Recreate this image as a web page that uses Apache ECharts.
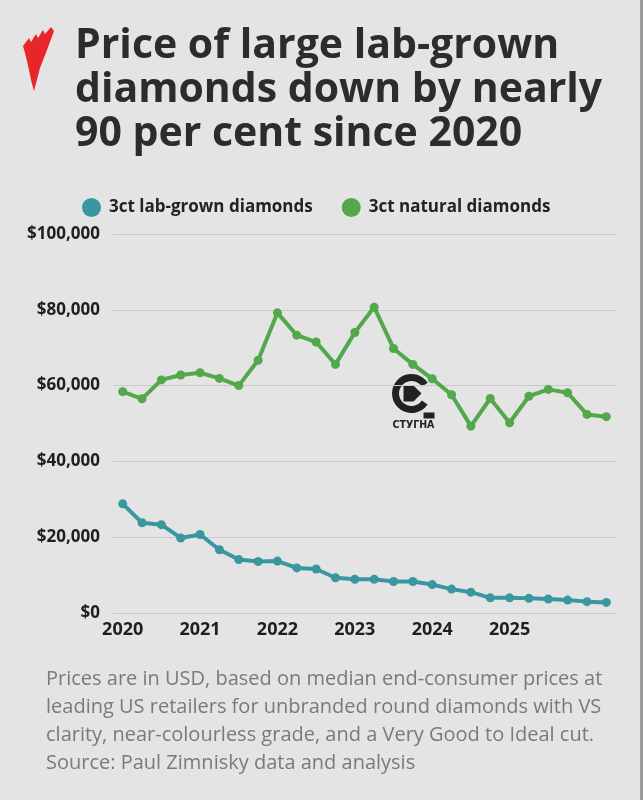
<!DOCTYPE html>
<html>
<head>
<meta charset="utf-8">
<script src="https://cdn.jsdelivr.net/npm/echarts@6/dist/echarts.min.js"></script>
<style>
html,body{margin:0;padding:0;background:#e4e4e4;}
#chart{width:643px;height:800px;}
</style>
</head>
<body>
<div id="chart"></div>
<script>
// Quarterly categories, Q1 2020 .. Q2 2026
const categories = [
  '2020 Q1','2020 Q2','2020 Q3','2020 Q4',
  '2021 Q1','2021 Q2','2021 Q3','2021 Q4',
  '2022 Q1','2022 Q2','2022 Q3','2022 Q4',
  '2023 Q1','2023 Q2','2023 Q3','2023 Q4',
  '2024 Q1','2024 Q2','2024 Q3','2024 Q4',
  '2025 Q1','2025 Q2','2025 Q3','2025 Q4',
  '2026 Q1','2026 Q2'
];
// Year tick labels shown on the x axis (empty = no label)
const tickLabels = [
  '2020','','','',
  '2021','','','',
  '2022','','','',
  '2023','','','',
  '2024','','','',
  '2025','','','',
  '',''
];
const labGrown = [
  28800, 23800, 23300, 19800, 20700, 16700, 14100, 13600, 13700, 11900, 11600, 9300, 8900,
  8900, 8300, 8300, 7500, 6300, 5500, 4000, 4000, 3900, 3700, 3400, 3000, 2800
];
const natural = [
  58400, 56500, 61500, 62800, 63400, 61900, 60000, 66700, 79200, 73300, 71500, 65600, 74000,
  80700, 69800, 65600, 61800, 57600, 49300, 56600, 50200, 57200, 59000, 58100, 52400, 51800
];
const yTicks = [0, 20000, 40000, 60000, 80000, 100000];
const seriesNames = ['3ct lab-grown diamonds', '3ct natural diamonds'];
const titleLines = ['Price of large lab-grown', 'diamonds down by nearly', '90 per cent since 2020'];
const footnoteLines = [
  'Prices are in USD, based on median end-consumer prices at',
  'leading US retailers for unbranded round diamonds with VS',
  'clarity, near-colourless grade, and a Very Good to Ideal cut.',
  'Source: Paul Zimnisky data and analysis'
];

const FONT = '"Open Sans", "Noto Sans", sans-serif';
const TEAL = '#3a97a0';
const GREEN = '#52a84a';

const chart = echarts.init(document.getElementById('chart'), null, {renderer: 'canvas'});
chart.setOption({
  backgroundColor: '#e4e4e4',
  animation: false,
  title: {
    text: titleLines.join('\n'),
    left: 70,
    top: 19,
    textStyle: {
      fontFamily: FONT,
      fontSize: 41,
      fontWeight: 'bold',
      color: '#2c2c2c',
      lineHeight: 44
    }
  },
  legend: {
    data: seriesNames,
    left: 77,
    top: 193,
    icon: 'circle',
    itemWidth: 19,
    itemHeight: 19,
    itemGap: 29,
    textStyle: {
      fontFamily: FONT,
      fontSize: 17,
      fontWeight: 'bold',
      color: '#222',
      padding: [0, 0, 0, 3]
    }
  },
  grid: {
    left: 113,
    right: 27,
    top: 234,
    bottom: 187,
    containLabel: false
  },
  xAxis: {
    type: 'category',
    data: categories,
    boundaryGap: true,
    axisLine: {show: false},
    axisTick: {show: false},
    axisLabel: {
      interval: function (index) { return tickLabels[index] !== ''; },
      formatter: function (value, index) { return tickLabels[index]; },
      margin: 8,
      fontFamily: FONT,
      fontSize: 18,
      fontWeight: 'bold',
      color: '#1f1f1f'
    }
  },
  yAxis: {
    type: 'value',
    min: yTicks[0],
    max: yTicks[yTicks.length - 1],
    interval: yTicks[1] - yTicks[0],
    axisLine: {show: false},
    axisTick: {show: false},
    splitLine: {lineStyle: {color: '#c9c9c9', width: 1}},
    axisLabel: {
      margin: 13,
      fontFamily: FONT,
      fontSize: 17,
      fontWeight: 'bold',
      color: '#1f1f1f',
      formatter: function (v) { return '$' + v.toLocaleString('en-US'); }
    }
  },
  series: [
    {
      name: seriesNames[0],
      type: 'line',
      data: labGrown,
      color: TEAL,
      symbol: 'circle',
      symbolSize: 9,
      lineStyle: {width: 4, color: TEAL},
      itemStyle: {color: TEAL}
    },
    {
      name: seriesNames[1],
      type: 'line',
      data: natural,
      color: GREEN,
      symbol: 'circle',
      symbolSize: 9,
      lineStyle: {width: 4, color: GREEN},
      itemStyle: {color: GREEN}
    }
  ],
  graphic: [
    // SBS-style logo mark
    {
      type: 'polygon',
      z: 10,
      shape: {points: [[23,46],[29,38],[31,42],[36,34],[38,38],[43,30],[45,34],[51,27],[54,31],[47,50],[40,68],[34,91],[31,80],[29,70],[27,61],[25,53]]},
      style: {fill: '#e8262a'}
    },
    // Watermark (Stugna)
    {
      type: 'group',
      left: 392,
      top: 374,
      z: 20,
      children: [
        {type: 'arc', shape: {cx: 20, cy: 20, r: 16, startAngle: 0.6, endAngle: 5.7}, style: {stroke: '#222', lineWidth: 7, fill: null}},
        {type: 'polygon', shape: {points: [[12,12],[22,12],[30,20],[22,28],[12,28]]}, style: {fill: '#222'}},
        {type: 'text', left: 1, top: 46, style: {text: 'СТУГНА', font: 'bold 10.5px "DejaVu Sans Condensed", "DejaVu Sans", sans-serif', fill: '#222'}},
        {type: 'rect', shape: {x: 32, y: 39, width: 11, height: 6}, style: {fill: '#222'}}
      ]
    },
    // Footnote
    {
      type: 'text',
      left: 46,
      top: 665,
      style: {
        text: footnoteLines.join('\n'),
        font: '20px ' + FONT,
        lineHeight: 28,
        fill: '#7a7a7a'
      }
    },
    // right border line
    {
      type: 'rect',
      shape: {x: 640, y: 0, width: 3, height: 800},
      style: {fill: '#9a9a9a'}
    }
  ]
});
</script>
</body>
</html>
